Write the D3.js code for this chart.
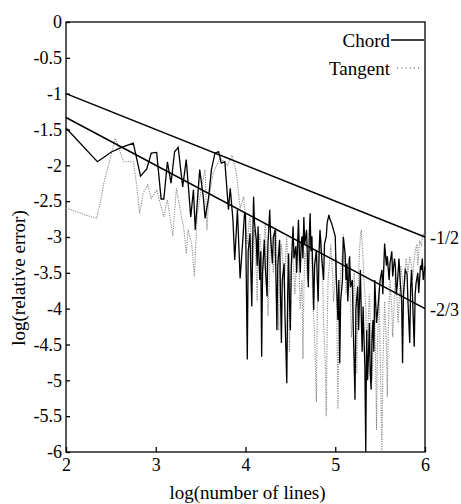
<!DOCTYPE html>
<meta charset="utf-8">
<script src="https://d3js.org/d3.v7.min.js"></script>
<style>
  body { margin: 0; background: #fff; }
  text { font-family: "Liberation Serif", "Times New Roman", serif; fill: #000; }
</style>
<div id="my_dataviz"></div>
<script>
// ---- data ----
var xTicks = [2, 3, 4, 5, 6];
var yTicks = [0, -0.5, -1, -1.5, -2, -2.5, -3, -3.5, -4, -4.5, -5, -5.5, -6];

// reference slopes: value at x=2 and at x=6, label
var slopeLines = [
  {label: "-1/2", y0: -1, y1: -3},
  {label: "-2/3", y0: -1.333, y1: -4}
];

// [log(number of lines), log(relative error)]
var chordPoints = [
  [2.00,-1.48],[2.35,-1.95],[2.51,-1.81],[2.62,-1.75],[2.75,-1.69],[2.83,-2.15],[2.90,-2.05],
  [2.95,-1.83],[3.01,-1.82],[3.06,-2.47],[3.09,-2.47],[3.13,-1.95],[3.17,-2.25],[3.21,-1.81],
  [3.25,-1.75],[3.30,-2.30],[3.34,-1.92],[3.39,-2.72],[3.42,-2.34],[3.44,-2.90],[3.49,-2.06],
  [3.53,-2.44],[3.55,-2.74],[3.59,-2.44],[3.62,-2.06],[3.66,-1.83],[3.70,-1.81],[3.73,-1.97],
  [3.77,-1.95],[3.81,-2.62],[3.83,-2.32],[3.86,-2.76],[3.88,-3.32],[3.91,-2.62],[3.94,-3.58],
  [3.97,-3.04],[3.99,-2.65],[4.00,-2.70],[4.02,-4.71],[4.03,-3.20],[4.05,-2.95],[4.06,-3.50],
  [4.07,-3.97],[4.08,-3.10],[4.09,-2.44],[4.10,-2.80],[4.12,-3.04],[4.13,-3.40],[4.14,-2.85],
  [4.15,-3.30],[4.16,-3.60],[4.17,-3.20],[4.18,-4.67],[4.19,-3.50],[4.21,-3.04],[4.22,-3.40],
  [4.24,-3.83],[4.25,-3.10],[4.27,-2.62],[4.28,-3.00],[4.30,-3.37],[4.31,-3.00],[4.33,-2.90],
  [4.34,-3.60],[4.35,-4.30],[4.36,-3.40],[4.38,-3.04],[4.39,-3.80],[4.40,-4.48],[4.41,-3.60],
  [4.43,-3.37],[4.44,-4.10],[4.46,-5.04],[4.47,-3.80],[4.48,-3.23],[4.49,-3.90],[4.50,-4.30],
  [4.51,-3.40],[4.53,-2.85],[4.54,-3.30],[4.56,-3.13],[4.57,-3.50],[4.59,-2.76],[4.60,-3.20],
  [4.61,-3.50],[4.62,-3.10],[4.63,-2.99],[4.64,-3.30],[4.65,-2.72],[4.66,-3.10],[4.68,-2.90],
  [4.69,-3.30],[4.70,-3.70],[4.71,-3.00],[4.72,-2.67],[4.73,-3.20],[4.74,-2.99],[4.75,-3.50],
  [4.76,-4.02],[4.77,-3.40],[4.79,-3.18],[4.80,-3.60],[4.81,-3.90],[4.82,-3.20],[4.83,-2.90],
  [4.85,-3.30],[4.87,-3.60],[4.88,-3.10],[4.90,-2.99],[4.91,-2.80],[4.93,-2.69],[4.94,-2.75],
  [4.96,-2.81],[4.98,-2.90],[5.00,-2.99],[5.01,-3.50],[5.03,-4.16],[5.04,-3.60],[5.05,-4.76],
  [5.06,-3.90],[5.08,-3.60],[5.09,-3.00],[5.11,-3.23],[5.12,-3.60],[5.13,-3.37],[5.14,-3.90],
  [5.16,-3.27],[5.17,-3.70],[5.19,-3.60],[5.20,-4.20],[5.22,-5.27],[5.23,-4.00],[5.25,-3.69],
  [5.26,-4.30],[5.28,-3.46],[5.29,-4.10],[5.30,-4.60],[5.31,-3.97],[5.32,-4.40],[5.33,-4.80],
  [5.34,-6.00],[5.35,-4.30],[5.36,-5.00],[5.37,-4.67],[5.38,-4.20],[5.39,-4.90],[5.40,-5.13],
  [5.41,-4.40],[5.42,-4.16],[5.43,-4.60],[5.44,-3.60],[5.46,-4.20],[5.48,-3.92],[5.50,-3.60],
  [5.52,-3.46],[5.53,-3.80],[5.55,-3.09],[5.57,-3.40],[5.58,-3.27],[5.60,-3.60],[5.61,-3.37],
  [5.63,-3.20],[5.64,-3.55],[5.66,-3.30],[5.67,-3.41],[5.68,-3.80],[5.69,-3.69],[5.71,-3.30],
  [5.72,-3.55],[5.74,-3.90],[5.75,-4.76],[5.76,-3.80],[5.78,-3.46],[5.80,-3.51],[5.81,-3.90],
  [5.83,-4.48],[5.84,-3.70],[5.85,-3.46],[5.86,-3.80],[5.88,-4.53],[5.89,-3.80],[5.90,-3.65],
  [5.92,-3.50],[5.93,-3.78],[5.95,-3.40],[5.96,-3.46],[5.97,-3.30],[5.98,-3.60],[6.00,-3.41]
];

var tangentPoints = [
  [2.00,-2.60],[2.06,-2.62],[2.21,-2.69],[2.29,-2.72],[2.34,-2.74],[2.38,-2.53],[2.43,-2.20],
  [2.48,-1.97],[2.55,-1.62],[2.59,-1.76],[2.64,-1.95],[2.69,-1.95],[2.75,-1.95],[2.79,-2.30],
  [2.82,-2.67],[2.86,-2.39],[2.91,-2.27],[2.95,-2.46],[3.01,-2.34],[3.05,-2.53],[3.09,-2.72],
  [3.13,-2.48],[3.19,-2.99],[3.23,-2.32],[3.29,-2.74],[3.31,-2.85],[3.34,-3.23],[3.36,-2.90],
  [3.40,-3.09],[3.43,-3.55],[3.46,-2.72],[3.51,-2.30],[3.55,-2.06],[3.57,-2.90],[3.59,-2.48],
  [3.64,-2.10],[3.72,-1.90],[3.80,-2.00],[3.85,-1.86],[3.90,-2.11],[3.94,-2.60],[3.98,-2.44],
  [4.02,-3.10],[4.04,-2.80],[4.05,-2.72],[4.07,-3.20],[4.08,-3.40],[4.09,-3.00],[4.10,-2.90],
  [4.12,-3.50],[4.13,-3.90],[4.14,-3.20],[4.16,-2.95],[4.18,-3.30],[4.19,-3.60],[4.21,-3.00],
  [4.22,-2.80],[4.24,-3.50],[4.25,-4.10],[4.27,-3.40],[4.28,-3.00],[4.30,-3.30],[4.31,-3.50],
  [4.33,-3.10],[4.34,-2.85],[4.36,-3.60],[4.37,-4.30],[4.38,-3.50],[4.40,-3.10],[4.42,-3.40],
  [4.43,-3.70],[4.45,-3.20],[4.46,-3.00],[4.48,-3.80],[4.49,-4.60],[4.50,-3.70],[4.52,-3.20],
  [4.54,-3.50],[4.55,-3.80],[4.57,-3.30],[4.58,-3.00],[4.60,-3.50],[4.61,-4.00],[4.63,-3.60],
  [4.64,-4.70],[4.65,-3.80],[4.66,-3.20],[4.68,-3.40],[4.69,-3.60],[4.71,-3.20],[4.72,-2.95],
  [4.74,-3.40],[4.75,-3.90],[4.77,-4.40],[4.79,-5.30],[4.80,-4.00],[4.81,-3.40],[4.83,-3.20],
  [4.84,-3.00],[4.86,-3.60],[4.87,-4.20],[4.89,-4.80],[4.90,-5.50],[4.91,-4.30],[4.92,-3.60],
  [4.94,-3.30],[4.95,-3.10],[4.97,-3.50],[4.98,-3.90],[5.00,-3.60],[5.01,-3.30],[5.02,-4.40],
  [5.03,-5.40],[5.04,-4.20],[5.06,-3.50],[5.08,-3.20],[5.09,-2.97],[5.11,-3.40],[5.12,-3.80],
  [5.14,-3.50],[5.15,-3.30],[5.17,-3.90],[5.18,-4.40],[5.20,-3.90],[5.21,-3.50],[5.23,-4.20],
  [5.24,-4.90],[5.25,-3.90],[5.27,-3.20],[5.28,-3.00],[5.29,-2.90],[5.31,-3.30],[5.32,-3.60],
  [5.34,-4.00],[5.35,-4.50],[5.37,-4.10],[5.38,-3.80],[5.40,-4.40],[5.41,-5.00],[5.43,-4.30],
  [5.44,-4.00],[5.45,-4.80],[5.46,-5.69],[5.47,-4.50],[5.49,-3.70],[5.50,-4.60],[5.52,-5.99],
  [5.53,-4.80],[5.55,-3.90],[5.57,-4.50],[5.58,-5.23],[5.59,-4.30],[5.61,-3.60],[5.63,-4.00],
  [5.64,-4.40],[5.66,-3.80],[5.67,-3.50],[5.69,-3.90],[5.70,-4.20],[5.72,-3.70],[5.73,-3.40],
  [5.75,-3.60],[5.76,-3.90],[5.78,-3.50],[5.79,-3.30],[5.81,-3.50],[5.83,-3.27],[5.85,-3.40],
  [5.86,-3.60],[5.88,-3.30],[5.89,-3.20],[5.91,-3.10],[5.92,-3.40],[5.94,-3.05],[5.96,-3.11],
  [5.98,-2.95],[6.00,-3.00]
];

// ---- layout ----
var margin = {top: 22, right: 36, bottom: 52, left: 66},
    width = 461 - margin.left - margin.right,
    height = 504 - margin.top - margin.bottom;

var svg = d3.select("#my_dataviz")
  .append("svg")
    .attr("width", 461)
    .attr("height", 504)
  .append("g")
    .attr("transform", "translate(" + margin.left + "," + margin.top + ")");

var x = d3.scaleLinear().domain([2, 6]).range([0, width]);
var y = d3.scaleLinear().domain([-6, 0]).range([height, 0]);

// frame
svg.append("rect")
  .attr("width", width).attr("height", height)
  .attr("fill", "none").attr("stroke", "#000").attr("stroke-width", 1.3);

// axes, ticks pointing inward
var xAxis = svg.append("g")
  .attr("transform", "translate(0," + height + ")")
  .call(d3.axisBottom(x).tickValues(xTicks).tickSize(-5).tickPadding(6).tickFormat(d3.format("d")));
var yAxis = svg.append("g")
  .call(d3.axisLeft(y).tickValues(yTicks).tickSize(-4).tickPadding(4).tickFormat(d => d === 0 ? "0" : String(d)));

[xAxis, yAxis].forEach(function(a) {
  a.select(".domain").remove();
  a.selectAll("line").attr("stroke", "#000").attr("stroke-width", 1.3);
  a.selectAll("text").style("font-size", "18px").style("font-family", "Liberation Serif, serif").attr("fill", "#000");
});

var line = d3.line().x(d => x(d[0])).y(d => y(d[1]));

// tangent (dotted grey)
svg.append("path")
  .datum(tangentPoints)
  .attr("d", line)
  .attr("fill", "none")
  .attr("stroke", "#8a8a8a")
  .attr("stroke-width", 1.1)
  .attr("stroke-dasharray", "1.2,1.2");

// chord (solid black)
svg.append("path")
  .datum(chordPoints)
  .attr("d", line)
  .attr("fill", "none")
  .attr("stroke", "#000")
  .attr("stroke-width", 1.3);

// slope reference lines + labels
slopeLines.forEach(function(s) {
  svg.append("line")
    .attr("x1", x(2)).attr("y1", y(s.y0))
    .attr("x2", x(6)).attr("y2", y(s.y1))
    .attr("stroke", "#000").attr("stroke-width", 1.5);
  svg.append("text")
    .attr("x", x(6) + 5).attr("y", y(s.y1) + 7)
    .style("font-size", "18px")
    .text(s.label);
});

// legend
var legend = [
  {name: "Chord", dash: null, color: "#000", yy: 18, x1: 325, x2: 358},
  {name: "Tangent", dash: "1.2,3", color: "#8a8a8a", yy: 46, x1: 331, x2: 356}
];
legend.forEach(function(l) {
  svg.append("text")
    .attr("x", 324).attr("y", l.yy + 7)
    .attr("text-anchor", "end")
    .style("font-size", "19px")
    .text(l.name);
  svg.append("line")
    .attr("x1", l.x1).attr("x2", l.x2)
    .attr("y1", l.yy).attr("y2", l.yy)
    .attr("stroke", l.color).attr("stroke-width", 1.3)
    .attr("stroke-dasharray", l.dash);
});

// axis titles
svg.append("text")
  .attr("x", width / 2 + 2).attr("y", height + 47)
  .attr("text-anchor", "middle")
  .style("font-size", "19px")
  .text("log(number of lines)");

svg.append("text")
  .attr("transform", "translate(-41,256)rotate(-90)")
  .attr("text-anchor", "middle")
  .style("font-size", "19px")
  .text("log(relative error)");
</script>
